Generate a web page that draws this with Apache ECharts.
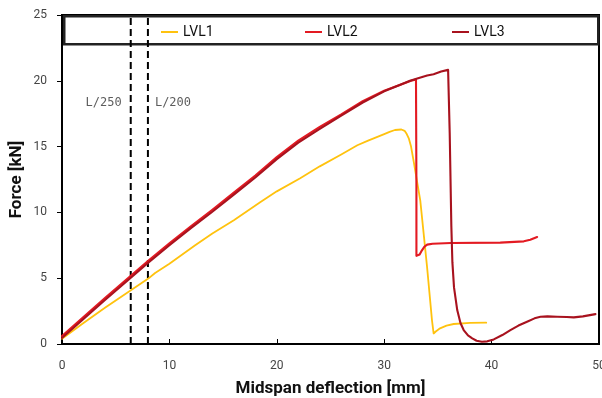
<!DOCTYPE html>
<html>
<head>
<meta charset="utf-8">
<script src="https://cdn.jsdelivr.net/npm/echarts@6/dist/echarts.min.js"></script>
<style>html,body{margin:0;padding:0;background:#fff;overflow:hidden}#c{width:602px;height:398px}</style>
</head>
<body>
<div id="c"></div>
<script>
// ---- data (deflection mm, force kN) ----
const seriesNames = ['LVL1', 'LVL2', 'LVL3'];
const lvl1 = [[0,0.4],[2,1.6],[4,2.75],[6,3.85],[8,4.95],[8.67,5.4],[10,6.1],[12.4,7.5],[14,8.4],[16,9.4],[18.45,10.78],[20,11.6],[22.18,12.6],[24,13.5],[26,14.4],[27.5,15.1],[28.5,15.45],[30,15.95],[30.5,16.12],[31,16.26],[31.6,16.3],[31.9,16.2],[32.1,15.95],[32.3,15.6],[32.5,15.0],[32.74,13.9],[33.36,10.9],[33.99,5.86],[34.45,1.8],[34.6,0.8],[34.8,0.95],[35.2,1.19],[35.8,1.4],[36.47,1.52],[38,1.6],[39.5,1.62]];
const lvl2 = [[0,0.6],[2,2.05],[4,3.5],[6,4.9],[8,6.3],[10,7.65],[12,8.95],[14,10.2],[16,11.5],[18,12.8],[20,14.2],[22,15.45],[24,16.5],[26,17.45],[28,18.45],[30,19.25],[31.5,19.7],[32.5,20.0],[32.96,20.1],[33.0,12.0],[33.0,6.7],[33.1,6.6],[33.3,6.8],[33.5,7.1],[33.75,7.4],[34,7.55],[34.5,7.62],[36.2,7.67],[40.8,7.7],[43,7.8],[43.6,7.92],[44.24,8.13]];
const lvl3 = [[0,0.45],[2,1.9],[4,3.35],[6,4.75],[8,6.15],[10,7.5],[12,8.8],[14,10.05],[16,11.35],[18,12.65],[20,14.05],[22,15.3],[24,16.35],[26,17.35],[28,18.35],[30,19.2],[31.5,19.7],[32.4,20.0],[33,20.15],[34,20.4],[34.6,20.5],[35.3,20.7],[35.95,20.83],[36.1,16],[36.25,9.0],[36.35,6.2],[36.5,4.3],[36.8,2.58],[37.1,1.6],[37.4,1.06],[37.8,0.65],[38.2,0.43],[38.6,0.25],[39.1,0.17],[39.6,0.2],[40.2,0.35],[41,0.68],[41.75,1.06],[42.5,1.4],[43.3,1.69],[44,1.95],[44.55,2.07],[45.2,2.1],[46.1,2.07],[47,2.05],[47.65,2.02],[48.5,2.1],[49.67,2.27]];
const limitNames = ['L/250', 'L/200'];
const limitValues = [6.4, 8.0];
const limitLabelY = 18.3;
const xTicks = [0, 10, 20, 30, 40, 50];
const yTicks = [0, 5, 10, 15, 20, 25];
const xTitle = 'Midspan deflection [mm]';
const yTitle = 'Force [kN]';

const colors = ['#FFC20E', '#E31A22', '#A8121E'];
const chart = echarts.init(document.getElementById('c'), null, {renderer: 'canvas'});
const dataSets = [lvl1, lvl2, lvl3];

const series = dataSets.map((d, i) => ({
  name: seriesNames[i], type: 'line', data: d, showSymbol: false, smooth: false,
  lineStyle: {color: colors[i], width: i === 0 ? 1.8 : 2.1, join: 'round', cap: 'round'}, itemStyle: {color: colors[i]},
  z: 3 + i, animation: false
}));
limitValues.forEach((v, i) => {
  series.push({
    type: 'line', data: [[v, yTicks[0]], [v, yTicks[yTicks.length - 1]]], showSymbol: false,
    lineStyle: {color: '#000', width: 2, type: [7, 4]}, z: 2, animation: false, silent: true
  });
  series.push({
    type: 'scatter', data: [[v, limitLabelY]], symbolSize: 0, silent: true, animation: false,
    label: {show: true, formatter: limitNames[i], position: i === 0 ? 'left' : 'right', distance: i === 0 ? 9 : 7,
      fontFamily: 'DejaVu Sans Mono', fontSize: 12, color: '#333'}
  });
});

const legendLefts = [156, 300, 447];
const legends = seriesNames.map((n, i) => ({
  data: [n], left: legendLefts[i], top: 20, itemWidth: 17, itemHeight: 10,
  icon: 'path://M0,4 L17,4 L17,6 L0,6 Z',
  textStyle: {fontFamily: 'Roboto', fontSize: 14, color: '#111'}
}));

chart.setOption({
  animation: false,
  backgroundColor: '#fff',
  grid: {left: 62, right: 3, top: 15, bottom: 54, show: true, borderColor: '#000', borderWidth: 2,
    containLabel: false, outerBoundsMode: 'none'},
  legend: legends,
  graphic: [{
    type: 'rect', left: 63, top: 15, z: 1,
    shape: {width: 534, height: 28},
    style: {fill: '#fff', stroke: '#222', lineWidth: 2.5}
  }],
  xAxis: {
    type: 'value', min: xTicks[0], max: xTicks[xTicks.length - 1], interval: 10,
    name: xTitle, nameLocation: 'middle', nameGap: 36, nameMoveOverlap: false,
    nameTextStyle: {fontFamily: 'Roboto', fontWeight: 'bold', fontSize: 17, color: '#111'},
    axisLine: {show: true, lineStyle: {color: '#000', width: 2}},
    axisTick: {show: true, inside: true, length: 5, lineStyle: {color: '#000', width: 1}},
    axisLabel: {fontFamily: 'Roboto', fontSize: 12, color: '#444', margin: 16},
    splitLine: {show: false}
  },
  yAxis: {
    type: 'value', min: yTicks[0], max: yTicks[yTicks.length - 1], interval: 5,
    name: yTitle, nameLocation: 'middle', nameGap: 37, nameRotate: 90, nameMoveOverlap: false,
    nameTextStyle: {fontFamily: 'Roboto', fontWeight: 'bold', fontSize: 17, color: '#111'},
    axisLine: {show: true, lineStyle: {color: '#000', width: 2}},
    axisTick: {show: true, inside: false, length: 5, lineStyle: {color: '#000', width: 1}},
    axisLabel: {fontFamily: 'Roboto', fontSize: 12, color: '#444', margin: 15},
    splitLine: {show: false}
  },
  series: series
});
</script>
</body>
</html>
